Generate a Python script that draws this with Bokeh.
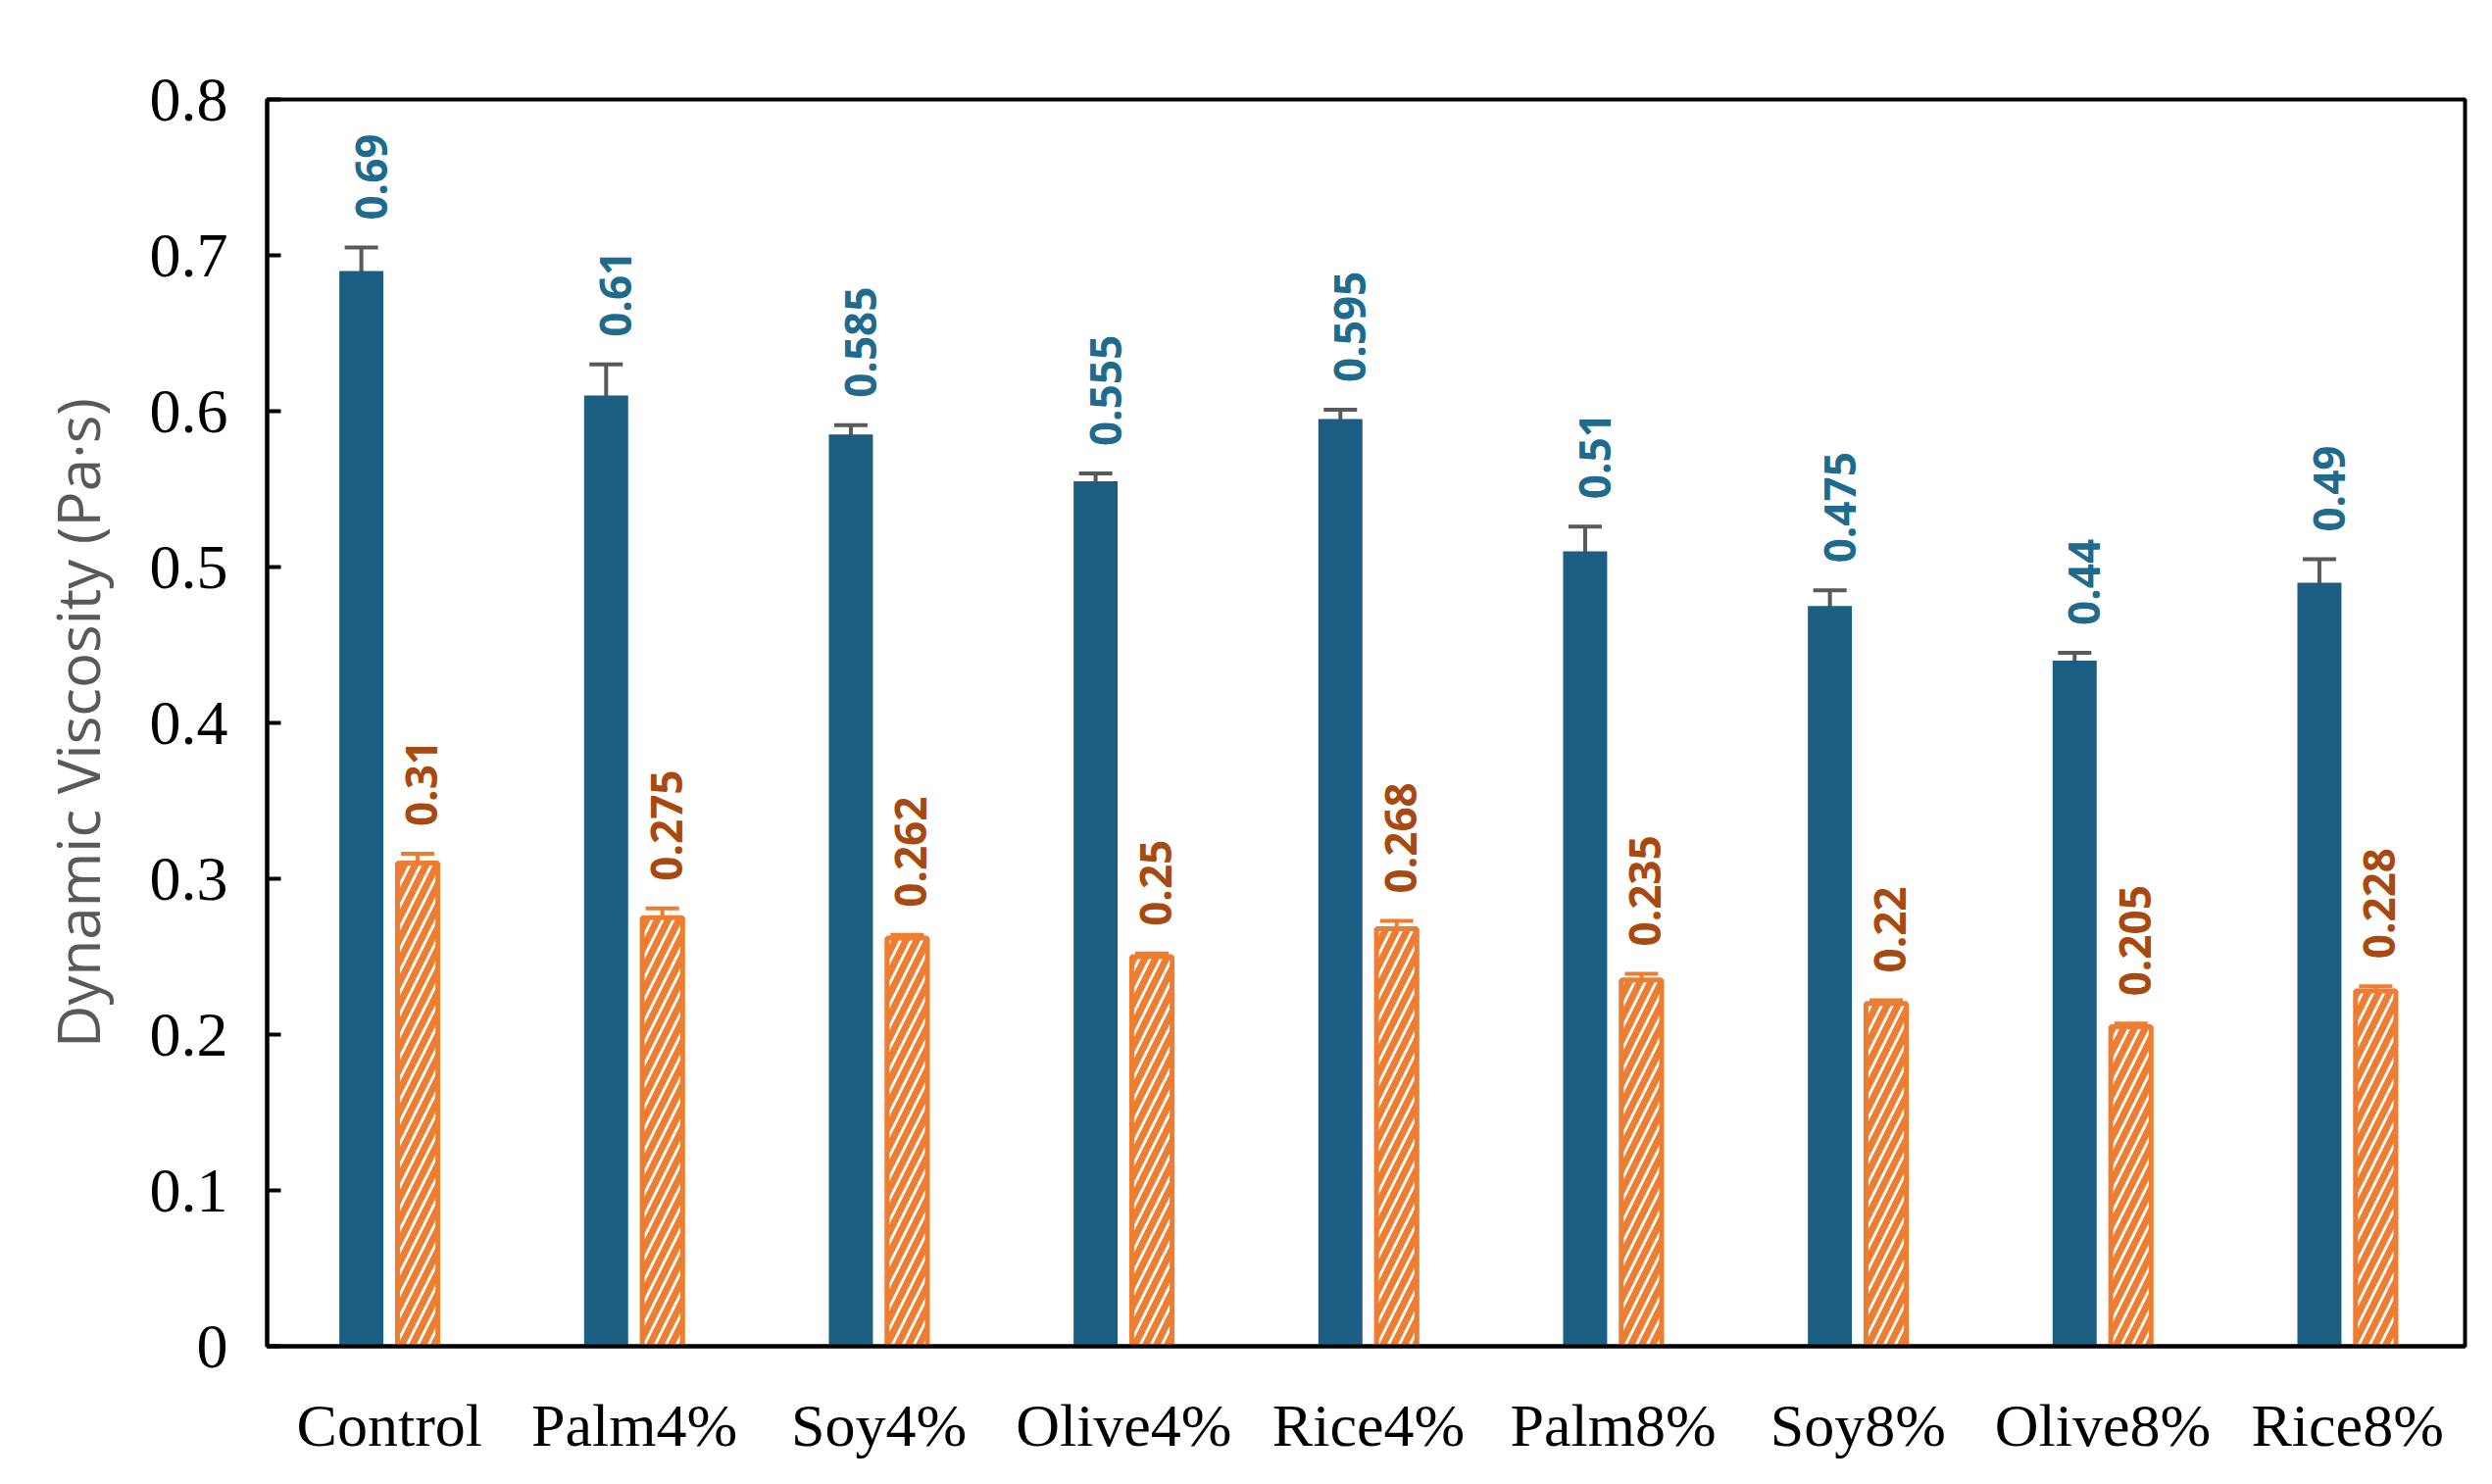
import numpy as np
from bokeh.plotting import figure
from bokeh.models import ColumnDataSource, Whisker, TeeHead, Range1d, FixedTicker, Legend, LegendItem
from bokeh.core.properties import value
from bokeh.embed import file_html
from bokeh.resources import INLINE

categories = ["Control", "Palm4%", "Soy4%", "Olive4%", "Rice4%", "Palm8%", "Soy8%", "Olive8%", "Rice8%"]
visc135 = [0.69, 0.61, 0.585, 0.555, 0.595, 0.51, 0.475, 0.44, 0.49]
err135 = [0.015, 0.02, 0.006, 0.005, 0.006, 0.016, 0.01, 0.005, 0.015]
visc165 = [0.31, 0.275, 0.262, 0.25, 0.268, 0.235, 0.22, 0.205, 0.228]
err165 = [0.006, 0.006, 0.002, 0.002, 0.005, 0.004, 0.002, 0.002, 0.003]
labels135 = ["0.69", "0.61", "0.585", "0.555", "0.595", "0.51", "0.475", "0.44", "0.49"]
labels165 = ["0.31", "0.275", "0.262", "0.25", "0.268", "0.235", "0.22", "0.205", "0.228"]

BLUE = "#1b5e82"; ORANGE = "#ed7d31"
x = np.arange(len(categories))
s1 = ColumnDataSource(dict(x=x - 0.115, y=visc135, up=np.add(visc135, err135), lo=np.subtract(visc135, err135), lab=labels135))
s2 = ColumnDataSource(dict(x=x + 0.115, y=visc165, up=np.add(visc165, err165), lo=np.subtract(visc165, err165), lab=labels165))

p = figure(width=2526, height=1490, output_backend="svg", toolbar_location=None,
           x_range=Range1d(-0.5, 8.48), y_range=Range1d(0, 0.8),
           min_border_left=272, min_border_right=12, min_border_bottom=107, min_border_top=101)
p.grid.visible = False
p.outline_line_color = "black"; p.outline_line_width = 4

r1 = p.vbar(x="x", top="y", width=0.18, source=s1, fill_color=BLUE, line_color=None)
r2 = p.vbar(x="x", top="y", width=0.165, source=s2, fill_color="white", line_color=ORANGE, line_width=5,
            hatch_pattern="/", hatch_color=ORANGE, hatch_weight=7, hatch_scale=22)

for s, c in ((s1, "#595959"), (s2, ORANGE)):
    w = Whisker(base="x", upper="up", lower="lo", source=s, line_color=c, line_width=4,
                upper_head=TeeHead(size=34, line_color=c, line_width=4),
                lower_head=TeeHead(size=34, line_color=c, line_width=4))
    p.add_layout(w)

p.text(x="x", y="up", text="lab", source=s1, angle=np.pi/2, text_align="left", text_baseline="middle",
       y_offset=-28, x_offset=10, text_color="#1f6b8e", text_font=value("Open Sans"), text_font_style="bold",
       text_font_size="44px")
p.text(x="x", y="up", text="lab", source=s2, angle=np.pi/2, text_align="left", text_baseline="middle",
       y_offset=-28, x_offset=4, text_color="#a84a10", text_font=value("Open Sans"), text_font_style="bold",
       text_font_size="44px")

p.yaxis.ticker = FixedTicker(ticks=[i/10 for i in range(9)])
p.yaxis.major_label_overrides = {i/10: ("0" if i == 0 else f"0.{i}") for i in range(9)}
p.yaxis.major_tick_in = 14; p.yaxis.major_tick_out = 0; p.yaxis.minor_tick_line_color = None
p.yaxis.major_tick_line_width = 4; p.yaxis.axis_line_width = 4
p.yaxis.major_label_text_font = "Liberation Serif"; p.yaxis.major_label_text_font_size = "64px"
p.yaxis.major_label_text_color = "black"; p.yaxis.major_label_standoff = 40
p.yaxis.axis_label = "Dynamic Viscosity (Pa·s)"
p.yaxis.axis_label_text_font = "Open Sans"; p.yaxis.axis_label_text_font_style = "normal"
p.yaxis.axis_label_text_font_size = "60px"; p.yaxis.axis_label_text_color = "#595959"
p.yaxis.axis_label_standoff = 30

p.xaxis.ticker = FixedTicker(ticks=list(range(len(categories))))
p.xaxis.major_label_overrides = {i: c for i, c in enumerate(categories)}
p.xaxis.major_tick_line_color = None; p.xaxis.minor_tick_line_color = None
p.xaxis.axis_line_width = 4
p.xaxis.major_label_text_font = "Liberation Serif"; p.xaxis.major_label_text_font_size = "62px"
p.xaxis.major_label_text_color = "black"; p.xaxis.major_label_standoff = 40

leg = Legend(items=[LegendItem(label="Dynamic viscosity @135°C (Pa·s)", renderers=[r1]),
                    LegendItem(label="Dynamic viscosity @165°C (Pa·s)", renderers=[r2])],
             orientation="horizontal", location=(-40, 1282), label_text_font="Open Sans",
             label_text_color="black", label_text_font_size="66px", glyph_width=44, glyph_height=44,
             spacing=100, label_standoff=16,
             border_line_color=None, background_fill_alpha=0, padding=0, margin=0)
p.add_layout(leg, "center")

open("out.html", "w").write(file_html(p, INLINE))
